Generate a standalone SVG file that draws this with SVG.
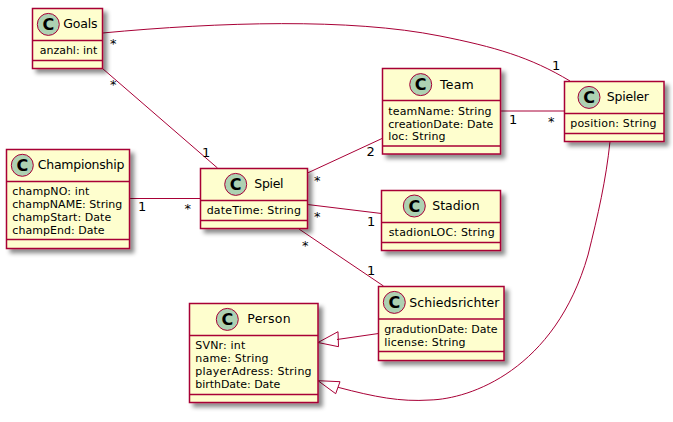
<svg xmlns="http://www.w3.org/2000/svg" width="673" height="422" viewBox="0 0 673 422">
<style>
text{font-family:"DejaVu Sans",sans-serif;fill:#000}
.box{fill:#FEFECE;stroke:#A80036;stroke-width:1.5;filter:url(#sh)}
.sep{stroke:#A80036;stroke-width:1.5;fill:none}
.ci{fill:#ADD1B2;stroke:#A80036;stroke-width:1}
.c{font-size:16px;font-weight:bold;text-anchor:middle}
.t{font-size:12.5px}
.a{font-size:11px}
.l{font-size:13px}
.e{stroke:#A80036;stroke-width:1;fill:none}
.h{stroke:#A80036;stroke-width:1;fill:none}
</style>
<defs>
<filter id="sh" x="-20%" y="-20%" width="140%" height="140%"><feDropShadow dx="4" dy="4" stdDeviation="2" flood-color="#000" flood-opacity="0.45"/></filter>
</defs>
<g id="connectors">
<path class="e" d="M102.5,33 C220,22 350,18 440,36 C495,47 530,57 570,81"/>
<path class="e" d="M102.5,68.5 L217.5,168"/>
<path class="e" d="M129.5,198.5 L200.5,198.5"/>
<path class="e" d="M307.5,173 L382,138.5"/>
<path class="e" d="M307.5,204.5 L381.5,213.5"/>
<path class="e" d="M299,229 L383.5,286"/>
<path class="e" d="M500.5,111 L564.5,111"/>
<path class="e" d="M337,339.5 L378.5,333.5"/>
<path class="h" d="M318,342.5 L338,331.7 L338.5,346.7 Z"/>
<path class="e" d="M338,387.3 C375,397 400,402 430,400 C470,399 555,370 588,255 C598,215 606,180 610,141.5"/>
<path class="h" d="M318,380.7 L340,381.7 L335.7,393.7 Z"/>
<text class="l" x="110" y="48">*</text>
<text class="l" x="110" y="89">*</text>
<text class="l" x="202" y="157">1</text>
<text class="l" x="138" y="211">1</text>
<text class="l" x="184.5" y="213">*</text>
<text class="l" x="314" y="185">*</text>
<text class="l" x="314" y="221">*</text>
<text class="l" x="302" y="250">*</text>
<text class="l" x="366.5" y="155.5">2</text>
<text class="l" x="367" y="226">1</text>
<text class="l" x="367" y="275">1</text>
<text class="l" x="509" y="124">1</text>
<text class="l" x="548" y="126">*</text>
<text class="l" x="552" y="70">1</text>
</g>
<g id="Goals">
<rect class="box" x="32.5" y="8.5" width="70" height="60"/>
<path class="sep" d="M32.5,40.5H102.5M32.5,60.5H102.5"/>
<circle class="ci" cx="48.3" cy="24.4" r="11"/><text class="c" x="48.3" y="30">C</text>
<text class="t" x="63.3" y="28" textLength="34.3">Goals</text>
<text class="a" x="39.7" y="54.3" textLength="57.7">anzahl: int</text>
</g>
<g id="Championship">
<rect class="box" x="6.5" y="149.5" width="123" height="99"/>
<path class="sep" d="M6.5,181.5H129.5M6.5,239.5H129.5"/>
<circle class="ci" cx="22.3" cy="165.3" r="11"/><text class="c" x="22.3" y="171">C</text>
<text class="t" x="37.7" y="169" textLength="86.7">Championship</text>
<text class="a" x="12.3" y="195.3" textLength="77">champNO: int</text>
<text class="a" x="12.3" y="208.3" textLength="110">champNAME: String</text>
<text class="a" x="12.3" y="221.3" textLength="99">champStart: Date</text>
<text class="a" x="12.3" y="234.3" textLength="92.3">champEnd: Date</text>
</g>
<g id="Spiel">
<rect class="box" x="200.5" y="168.5" width="107" height="60"/>
<path class="sep" d="M200.5,200.5H307.5M200.5,220.5H307.5"/>
<circle class="ci" cx="235.7" cy="184.4" r="11"/><text class="c" x="235.7" y="190">C</text>
<text class="t" x="254.3" y="188" textLength="29.3">Spiel</text>
<text class="a" x="206.7" y="214.3" textLength="94.3">dateTime: String</text>
</g>
<g id="Team">
<rect class="box" x="382.5" y="68.5" width="118" height="85.5"/>
<path class="sep" d="M382.5,100.5H500.5M382.5,146H500.5"/>
<circle class="ci" cx="420.7" cy="84.6" r="11"/><text class="c" x="420.7" y="90">C</text>
<text class="t" x="440" y="89" textLength="33.7">Team</text>
<text class="a" x="388.3" y="115.3" textLength="103.3">teamName: String</text>
<text class="a" x="388.3" y="128.3" textLength="105">creationDate: Date</text>
<text class="a" x="388.3" y="140.3" textLength="57.3">loc: String</text>
</g>
<g id="Spieler">
<rect class="box" x="564.5" y="81.5" width="99.5" height="60"/>
<path class="sep" d="M564.5,113.5H664M564.5,133.5H664"/>
<circle class="ci" cx="589" cy="97.4" r="11"/><text class="c" x="589" y="103">C</text>
<text class="t" x="606.7" y="101.3" textLength="42.3">Spieler</text>
<text class="a" x="570.3" y="127.3" textLength="86.3">position: String</text>
</g>
<g id="Stadion">
<rect class="box" x="381.5" y="190.5" width="119" height="60"/>
<path class="sep" d="M381.5,222.5H500.5M381.5,242.5H500.5"/>
<circle class="ci" cx="414.3" cy="206" r="11"/><text class="c" x="414.3" y="211.6">C</text>
<text class="t" x="432.3" y="210" textLength="47.3">Stadion</text>
<text class="a" x="388.7" y="236.3" textLength="106">stadionLOC: String</text>
</g>
<g id="Schiedsrichter">
<rect class="box" x="378.5" y="286.5" width="125.5" height="74"/>
<path class="sep" d="M378.5,319H504M378.5,351.5H504"/>
<circle class="ci" cx="394.3" cy="302.4" r="11"/><text class="c" x="394.3" y="308">C</text>
<text class="t" x="409.3" y="307" textLength="90">Schiedsrichter</text>
<text class="a" x="384.3" y="333.3" textLength="113.3">gradutionDate: Date</text>
<text class="a" x="384.3" y="346.3" textLength="81.3">license: String</text>
</g>
<g id="Person">
<rect class="box" x="189.5" y="303.5" width="128.5" height="99"/>
<path class="sep" d="M189.5,335.5H318M189.5,394.5H318"/>
<circle class="ci" cx="227.3" cy="319.4" r="11"/><text class="c" x="227.3" y="325">C</text>
<text class="t" x="247.3" y="323" textLength="43.3">Person</text>
<text class="a" x="195.3" y="349.3" textLength="50">SVNr: int</text>
<text class="a" x="195.3" y="362.3" textLength="73.3">name: String</text>
<text class="a" x="195.3" y="375.3" textLength="116.3">playerAdress: String</text>
<text class="a" x="195.3" y="388.3" textLength="85">birthDate: Date</text>
</g>
</svg>
